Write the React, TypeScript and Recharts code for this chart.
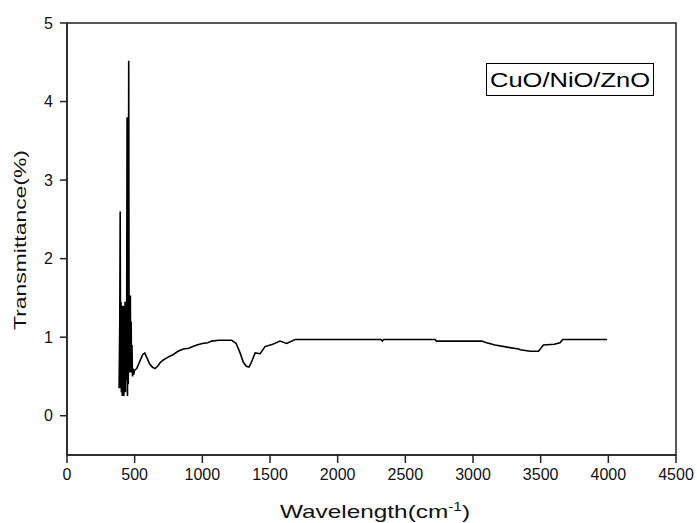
import { LineChart, Line, XAxis, YAxis, ReferenceArea } from "recharts"

// wavenumber (cm-1) and transmittance
const wavenumbers = [
  385, 390, 393, 396, 399, 402, 405, 408, 411, 414, 417, 420, 423, 426, 429, 432, 435, 438, 441, 444,
  447, 450, 453, 456, 459, 462, 465, 468, 471, 474, 477, 480, 484, 488, 492, 500, 515, 530, 545, 560,
  575, 590, 610, 630, 650, 670, 690, 712, 740, 786, 820, 860, 900, 930, 960, 1000, 1040, 1069, 1120, 1170,
  1217, 1250, 1279, 1303, 1325, 1345, 1365, 1390, 1427, 1463, 1520, 1574, 1623, 1685, 2000, 2320, 2330, 2340, 2720, 2730,
  3065, 3100, 3163, 3262, 3336, 3350, 3422, 3484, 3520, 3600, 3643, 3662, 3800, 3990,
]
const transmittance = [
  0.35, 1.2, 2.6, 0.35, 1.45, 0.3, 1.4, 0.25, 1.35, 0.4, 1.4, 0.25, 1.3, 0.5, 1.45, 0.3, 1.35, 0.45, 1.3, 3.8,
  0.25, 3.8, 0.4, 4.52, 0.6, 1.3, 0.55, 1.53, 0.6, 1.2, 0.55, 0.9, 0.5, 0.6, 0.52, 0.58, 0.6, 0.66, 0.72, 0.78,
  0.8, 0.74, 0.66, 0.62, 0.6, 0.63, 0.68, 0.71, 0.74, 0.78, 0.82, 0.85, 0.86, 0.88, 0.9, 0.92, 0.93, 0.95, 0.96, 0.96,
  0.96, 0.92, 0.8, 0.68, 0.63, 0.62, 0.69, 0.8, 0.79, 0.88, 0.91, 0.95, 0.92, 0.97, 0.97, 0.97, 0.95, 0.97, 0.97, 0.95,
  0.95, 0.93, 0.9, 0.87, 0.85, 0.84, 0.82, 0.82, 0.9, 0.91, 0.93, 0.97, 0.97, 0.97,
]
const xTicks = [0, 500, 1000, 1500, 2000, 2500, 3000, 3500, 4000, 4500]
const yTicks = [0, 1, 2, 3, 4, 5]
const seriesName = "CuO/NiO/ZnO"

const data = wavenumbers.map((w, i) => ({ w, t: transmittance[i] }))

const font = "'Liberation Sans', Arial, sans-serif"
const tickStyle = { fontSize: 16, fill: "#111", fontFamily: font }

// series box in the upper right, drawn over the chart
function LegendBox() {
  return (
    <svg width={168} height={33} style={{ position: "absolute", left: 486, top: 63 }}>
      <rect x={0.5} y={0.5} width={167} height={32} fill="#fff" stroke="#000" strokeWidth={1} />
      <text x={4} y={24} fontSize={21} fontFamily={font} fill="#000" textLength={160} lengthAdjust="spacingAndGlyphs">
        {seriesName}
      </text>
    </svg>
  )
}

export default function App() {
  return (
    <div style={{ position: "absolute", left: 0, top: 0, width: 697, height: 523, background: "#fff" }}>
      <LineChart width={697} height={523} data={data} margin={{ top: 23, right: 21, bottom: 28, left: 0 }}>
        <ReferenceArea x1={0} x2={4500} y1={-0.5} y2={5} fill="none" stroke="#222" strokeWidth={1.5} ifOverflow="visible" />
        <XAxis
          dataKey="w"
          type="number"
          domain={[0, 4500]}
          ticks={xTicks}
          interval={0}
          height={40}
          tickSize={8}
          tickMargin={6}
          tick={tickStyle}
          stroke="#222"
          strokeWidth={1.5}
          label={{
            content: () => (
              <text x={280} y={518} fontSize={19} fontFamily={font} fill="#111" textLength={190} lengthAdjust="spacingAndGlyphs">
                Wavelength(cm<tspan dy={-7} fontSize={12}>-1</tspan><tspan dy={7}>)</tspan>
              </text>
            ),
          }}
        />
        <YAxis
          type="number"
          domain={[-0.5, 5]}
          ticks={yTicks}
          interval={0}
          width={67}
          tickSize={7}
          tickMargin={7}
          tick={tickStyle}
          stroke="#222"
          strokeWidth={1.5}
          label={{
            content: () => (
              <text
                x={0}
                y={0}
                transform="translate(26,240) rotate(-90)"
                textAnchor="middle"
                fontSize={17}
                fontFamily={font}
                fill="#111"
                textLength={180}
                lengthAdjust="spacingAndGlyphs"
              >
                Transmittance(%)
              </text>
            ),
          }}
        />
        <Line
          type="linear"
          dataKey="t"
          stroke="#000"
          strokeWidth={1.6}
          dot={false}
          activeDot={false}
          isAnimationActive={false}
        />
      </LineChart>
      <LegendBox />
    </div>
  )
}
